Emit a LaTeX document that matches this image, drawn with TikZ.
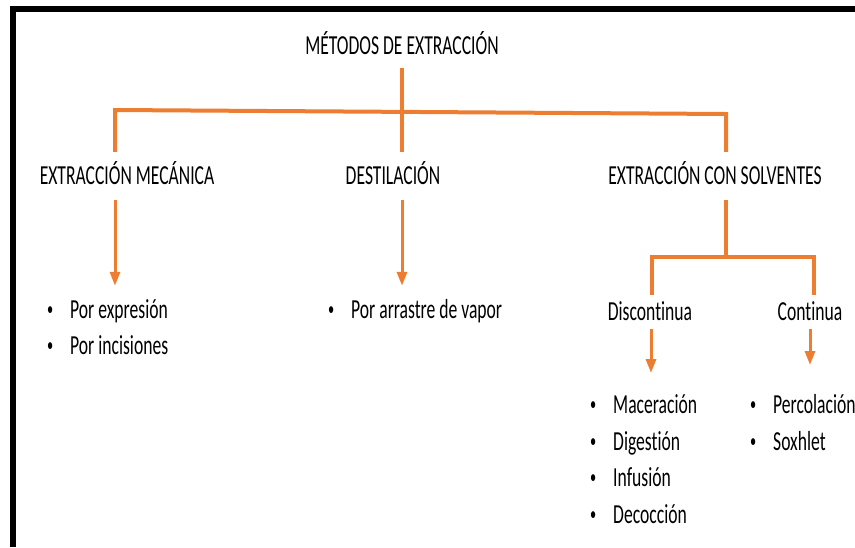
\documentclass[tikz,border=0pt]{standalone}
\usepackage{
	fontspec,		% Fonts
	graphicx,		% Scale bullets
	tikz,
	xcolor
}
\usetikzlibrary{arrows.meta}
\setmainfont{Carlito}[FakeStretch=0.64,Ligatures=NoCommon]
\definecolor{naranja}{HTML}{ED7D31}
\newcommand{\vineta}[1]{\makebox[40pt]{\raisebox{2.8pt}{\scalebox{0.7}{\textbullet}}}#1}

\begin{document}
\begin{tikzpicture}[x=1pt,y=-1pt,
		texto/.style={inner sep=0pt,text height=17pt,text depth=0pt,font=\fontsize{27.5}{32}\selectfont},
		nivel/.style={texto,minimum height=48pt},
		sub/.style={texto,minimum height=34pt},
		item/.style={texto,minimum height=48pt,anchor=west,xshift=-20pt},
		linea/.style={naranja,line width=4pt},
		flecha/.style={naranja,line width=3pt,-{Triangle[width=10pt,length=14pt]}}]
	\useasboundingbox (0,0) rectangle (855,547);
	\draw[line width=6pt] (13,547) -- (13,9) -- (855,9);
	% niveles
	\node[texto,minimum height=44pt] (met) at (402,46) {MÉTODOS DE EXTRACCIÓN};
	\node[nivel] (mec) at (127,176) {EXTRACCIÓN MECÁNICA};
	\node[nivel] (des) at (393,176) {DESTILACIÓN};
	\node[nivel] (sol) at (715,176) {EXTRACCIÓN CON SOLVENTES};
	\node[sub] (dis) at (650,312) {Discontinua};
	\node[sub] (con) at (810,312) {Continua};
	% listas
	\foreach \y/\t [count=\i] in {310/Por expresión, 346/Por incisiones}
		\node[item] (mec\i) at (50,\y) {\vineta{\t}};
	\node[item] (des1) at (331,310) {\vineta{Por arrastre de vapor}};
	\foreach \y/\t [count=\i] in {405/Maceración, 442/Digestión, 478/Infusión, 515/Decocción}
		\node[item] (dis\i) at (593,\y) {\vineta{\t}};
	\foreach \y/\t [count=\i] in {405/Percolación, 442/Soxhlet}
		\node[item] (con\i) at (753,\y) {\vineta{\t}};
	% conectores
	\coordinate (izq) at (115,110);
	\coordinate (der) at (726,114);
	\coordinate (ramI) at (652,257);
	\coordinate (ramD) at (814,257);
	\coordinate (pdis) at (651,373);
	\coordinate (pcon) at (810,365);
	\draw[linea] (mec.north -| izq) -- (izq) -- (der) -- (sol.north -| der);
	\draw[linea] (met.south) -- (met.south |- des.north);
	\draw[linea] (sol.south -| der) -- (der |- ramI);
	\draw[linea] (dis.north -| ramI) -- (ramI) -- (ramD) -- (con.north -| ramD);
	\draw[flecha] (mec.south -| izq) -- (izq |- mec1.north);
	\draw[flecha] (des.south -| met.south) -- (met.south |- des1.north);
	\draw[flecha] (dis.south -| pdis) -- (pdis);
	\draw[flecha] (con.south -| pcon) -- (pcon);
\end{tikzpicture}
\end{document}
